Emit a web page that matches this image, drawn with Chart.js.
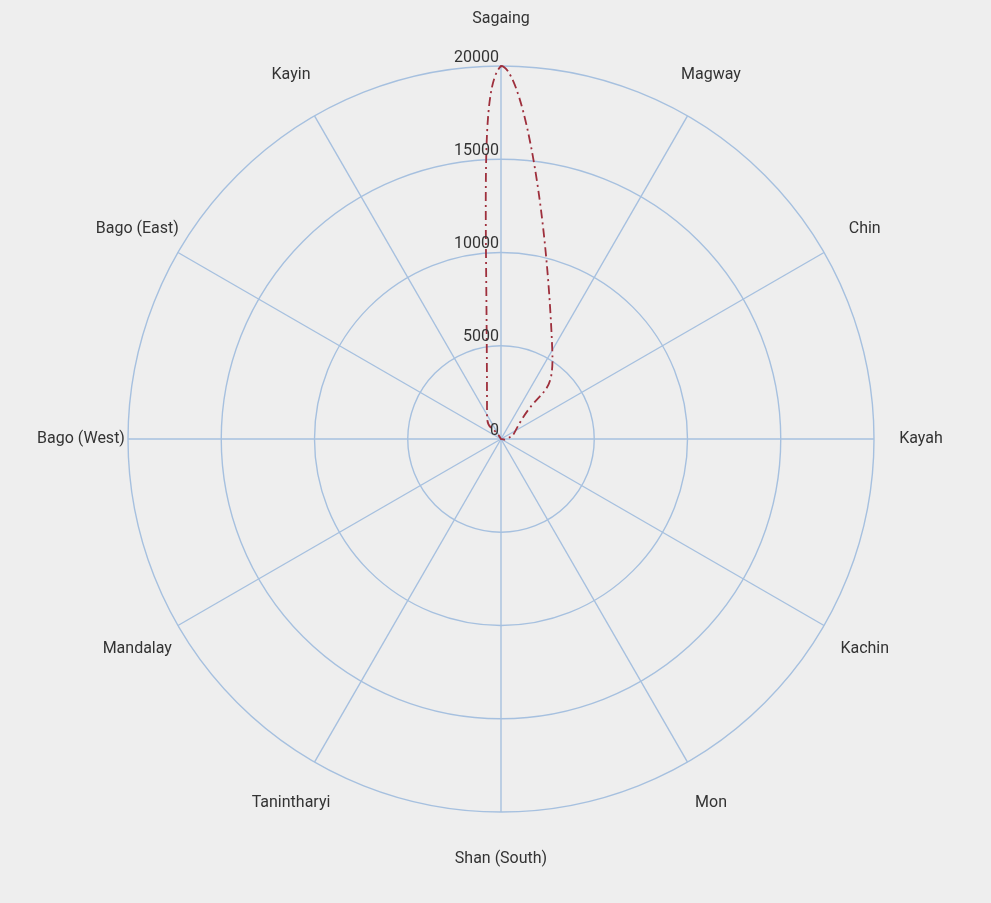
<!DOCTYPE html>
<html>
<head>
<meta charset="utf-8">
<script src="https://cdn.jsdelivr.net/npm/chart.js@4/dist/chart.umd.min.js"></script>
<style>
  html, body { margin: 0; padding: 0; background: #eeeeee; }
  #wrap { width: 991px; height: 903px; }
</style>
</head>
<body>
<div id="wrap"><canvas id="c" width="991" height="903"></canvas></div>
<script>
// ---- data (clockwise from top) ----
const categories = ['Sagaing', 'Magway', 'Chin', 'Kayah', 'Kachin', 'Mon', 'Shan (South)',
                    'Tanintharyi', 'Mandalay', 'Bago (West)', 'Bago (East)', 'Kayin'];
const seriesValues = [20000, 5500, 900, 300, 0, 0, 0, 0, 0, 0, 0, 1500];
const tickValues = [0, 5000, 10000, 15000, 20000];
const seriesName = 'Value';

const TEXT_COLOR = '#333333';
const GRID_COLOR = '#a6c0df';
const FONT = '16px Roboto, "Noto Sans", sans-serif';

const radialText = {
  id: 'radialText',
  afterDatasetsDraw(chart) {
    const s = chart.scales.r;
    const ctx = chart.ctx;
    ctx.save();
    ctx.font = FONT;
    ctx.fillStyle = TEXT_COLOR;
    ctx.textAlign = 'center';
    ctx.textBaseline = 'middle';
    categories.forEach((c, i) => {
      const p = s.getPointPosition(i, s.drawingArea + 47);
      ctx.fillText(c, p.x, p.y);
    });
    ctx.textAlign = 'right';
    ctx.textBaseline = 'alphabetic';
    tickValues.forEach(v => {
      const d = s.getDistanceFromCenterForValue(v);
      ctx.fillText(String(v), s.xCenter - 2, s.yCenter - d - 4.5);
    });
    ctx.restore();
  }
};

new Chart(document.getElementById('c'), {
  type: 'radar',
  data: {
    labels: categories,
    datasets: [{
      label: seriesName,
      data: seriesValues,
      borderColor: '#9e2f3c',
      borderWidth: 1.8,
      borderDash: [9, 4, 2, 4],
      backgroundColor: 'rgba(0,0,0,0)',
      fill: false,
      pointRadius: 0,
      pointHoverRadius: 0,
      tension: 0.6,
      clip: false
    }]
  },
  options: {
    responsive: false,
    devicePixelRatio: 1,
    animation: false,
    layout: { padding: { top: 66, bottom: 91, left: 128, right: 117 } },
    plugins: { legend: { display: false }, tooltip: { enabled: false } },
    scales: {
      r: {
        min: 0,
        max: 20000,
        ticks: { display: false, stepSize: 5000, callback: v => String(v) },
        pointLabels: { display: false },
        grid: { circular: true, color: GRID_COLOR, lineWidth: 1.4 },
        angleLines: { display: true, color: GRID_COLOR, lineWidth: 1.4 }
      }
    }
  },
  plugins: [radialText]
});
</script>
</body>
</html>
